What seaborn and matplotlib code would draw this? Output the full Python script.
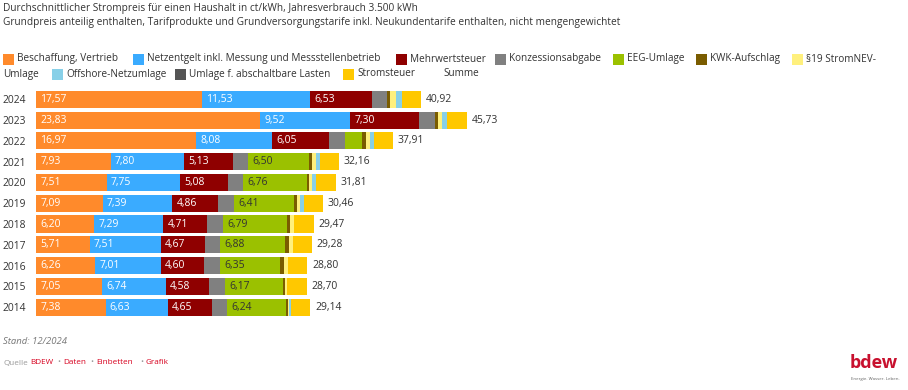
import matplotlib
matplotlib.use("Agg")
import matplotlib.pyplot as plt
from matplotlib.patches import Rectangle
import numpy as np
import seaborn as sns

# ---- data (ct/kWh) -------------------------------------------------------
YEARS = ["2024", "2023", "2022", "2021", "2020", "2019",
         "2018", "2017", "2016", "2015", "2014"]

beschaffung  = [17.57, 23.83, 16.97, 7.93, 7.51, 7.09, 6.20, 5.71, 6.26, 7.05, 7.38]
netzentgelt  = [11.53, 9.52, 8.08, 7.80, 7.75, 7.39, 7.29, 7.51, 7.01, 6.74, 6.63]
mwst         = [6.53, 7.30, 6.05, 5.13, 5.08, 4.86, 4.71, 4.67, 4.60, 4.58, 4.65]
konzession   = [1.66, 1.66, 1.66, 1.66, 1.66, 1.66, 1.66, 1.66, 1.66, 1.66, 1.66]
eeg          = [0.00, 0.00, 1.86, 6.50, 6.76, 6.41, 6.79, 6.88, 6.35, 6.17, 6.24]
kwk          = [0.275, 0.357, 0.378, 0.254, 0.226, 0.280, 0.345, 0.438, 0.445, 0.254, 0.178]
stromnev     = [0.643, 0.417, 0.437, 0.432, 0.358, 0.305, 0.370, 0.388, 0.378, 0.237, 0.092]
offshore     = [0.656, 0.591, 0.419, 0.395, 0.416, 0.416, 0.037, 0.000, 0.040, 0.000, 0.250]
abschaltbar  = [0.000, 0.000, 0.003, 0.009, 0.007, 0.005, 0.011, 0.006, 0.000, 0.006, 0.009]
stromsteuer  = [2.05, 2.05, 2.05, 2.05, 2.05, 2.05, 2.05, 2.05, 2.05, 2.05, 2.05]
summe        = [40.92, 45.73, 37.91, 32.16, 31.81, 30.46, 29.47, 29.28, 28.80, 28.70, 29.14]

LABELS = ["Beschaffung, Vertrieb", "Netzentgelt inkl. Messung und Messstellenbetrieb",
          "Mehrwertsteuer", "Konzessionsabgabe", "EEG-Umlage", "KWK-Aufschlag",
          "§19 StromNEV-Umlage", "Offshore-Netzumlage", "Umlage f. abschaltbare Lasten",
          "Stromsteuer"]
COLORS = ["#FF8A2B", "#3AABFF", "#8F0000", "#808080", "#9BC100", "#7A5C00",
          "#FFF07D", "#88D0E8", "#555555", "#FFC800"]
SERIES = [beschaffung, netzentgelt, mwst, konzession, eeg, kwk,
          stromnev, offshore, abschaltbar, stromsteuer]

W, H = 908, 390
TXT = "#333333"
FONT = "Open Sans"


def fx(x):
    return x / W


def fy(y):
    return 1 - y / H


def de(v):
    return f"{v:.2f}".replace(".", ",")


sns.set_style("white")
plt.rcParams["font.family"] = [FONT, "DejaVu Sans"]

fig = plt.figure(figsize=(W / 100, H / 100), dpi=100)
ax = fig.add_axes([fx(36), fy(317.4), 471 / W, 228.3 / H])

# stacked bars: draw cumulative sums from the outermost segment inwards
cum = np.cumsum(np.array(SERIES), axis=0)
for k in range(len(SERIES) - 1, -1, -1):
    sns.barplot(x=cum[k], y=YEARS, order=YEARS, orient="h", color=COLORS[k],
                saturation=1, width=0.82, linewidth=0, ax=ax)

# value labels inside the big segments
for i, yr in enumerate(YEARS):
    for k, col in ((0, "white"), (1, "white"), (2, "white"), (4, TXT)):
        v = SERIES[k][i]
        if v < 2:
            continue
        left = cum[k][i] - v
        ax.text(left + 0.45, i, de(v), va="center", ha="left",
                fontsize=7.5, color=col)
    ax.text(cum[-1][i] + 0.5, i, de(summe[i]), va="center", ha="left",
            fontsize=7.5, color=TXT)

ax.set_xlim(0, 50)
ax.set_ylim(len(YEARS) - 0.5, -0.5)
ax.set_xticks([])
ax.set_xlabel("")
ax.set_ylabel("")
ax.tick_params(axis="y", length=0, pad=7.2, labelsize=7.4, labelcolor=TXT)
sns.despine(ax=ax, left=True, bottom=True)

# ---- title ---------------------------------------------------------------
fig.text(fx(3), fy(9), "Durchschnittlicher Strompreis für einen Haushalt in ct/kWh, "
         "Jahresverbrauch 3.500 kWh", fontsize=7.25, color=TXT, va="center")
fig.text(fx(3), fy(23), "Grundpreis anteilig enthalten, Tarifprodukte und "
         "Grundversorgungstarife inkl. Neukundentarife enthalten, nicht mengengewichtet",
         fontsize=7.25, color=TXT, va="center")

# ---- legend (two wrapped rows like the web version) ----------------------
leg_items = [
    (0, 3, 59, LABELS[0]), (1, 133, 59, LABELS[1]), (2, 396, 59, LABELS[2]),
    (3, 495, 59, LABELS[3]), (4, 613, 59, LABELS[4]), (5, 696, 59, LABELS[5]),
    (6, 792, 59, "§19 StromNEV-"), (7, 52, 74, LABELS[7]),
    (8, 175, 74, LABELS[8]), (9, 343, 74, LABELS[9]),
]
for k, px, py, lab in leg_items:
    fig.add_artist(Rectangle((fx(px), fy(py + 5.5)), 11 / W, 11 / H,
                             transform=fig.transFigure, color=COLORS[k], lw=0))
    fig.text(fx(px + 14), fy(py), lab, fontsize=7.2, color=TXT, va="center")
fig.text(fx(3), fy(74), "Umlage", fontsize=7.2, color=TXT, va="center")
fig.text(fx(443), fy(74), "Summe", fontsize=7.2, color=TXT, va="center")

# ---- footer --------------------------------------------------------------
fig.text(fx(3), fy(342), "Stand: 12/2024", fontsize=6.8, color="#777777",
         style="italic", va="center")
RED = "#D7001E"
foot = [(3, "Quelle", "#999999"), (30.5, "BDEW", RED), (57.5, "•", "#999999"),
        (63, "Daten", RED), (90, "•", "#999999"), (96, "Einbetten", RED),
        (140, "•", "#999999"), (146, "Grafik", RED)]
for px, s, c in foot:
    fig.text(fx(px), fy(363), s, fontsize=5.9, color=c, va="center")

fig.text(fx(874), fy(363), "bdew", fontsize=13, color="#C8102E",
         fontweight="bold", ha="center", va="center")
fig.text(fx(875), fy(379), "Energie. Wasser. Leben.", fontsize=3.2,
         color="#666666", ha="center", va="center")

fig.savefig("out.png", dpi=100)
